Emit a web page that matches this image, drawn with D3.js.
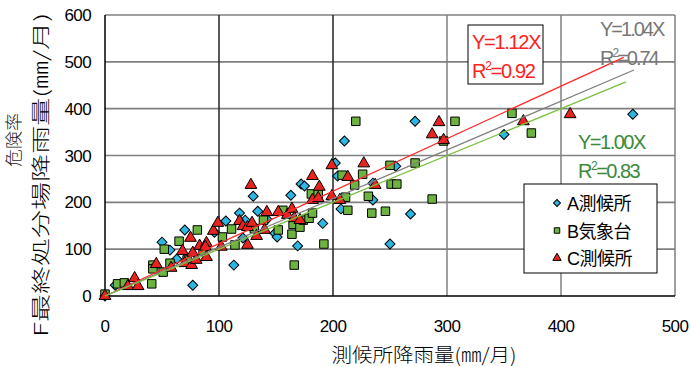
<!DOCTYPE html>
<html>
<head>
<meta charset="utf-8">
<script src="https://cdn.jsdelivr.net/npm/d3@7"></script>
<style>
body { margin: 0; background: #fff; }
text { font-family: "Liberation Sans", Arial, "Noto Sans CJK JP", sans-serif; }
.jp { font-family: "Noto Sans CJK JP", sans-serif; font-weight: 300; }
</style>
</head>
<body>
<svg id="svg" width="691" height="367"></svg>
<script>
// A測候所
var seriesA = [[0,0],[9,23],[50,115],[57,98],[63,79],[70,141],[77,23],[96,136],[106,160],[113,66],[118,177],
  [121,124],[123,162],[130,213],[134,181],[142,164],[149,134],[151,126],[163,215],[169,107],[172,239],
  [175,235],[191,155],[202,284],[204,256],[207,186],[210,331],[235,205],[235,241],[250,111],[255,277],
  [268,175],[272,373],[350,345],[463,388]];
// B気象台
var seriesB = [[0,4],[11,26],[17,28],[41,26],[42,66],[42,58],[51,51],[57,70],[52,100],[65,117],[81,141],
  [72,77],[86,96],[103,126],[111,143],[114,109],[131,144],[139,162],[152,141],[156,183],[164,132],
  [165,153],[166,66],[171,147],[174,162],[179,166],[182,177],[181,218],[187,218],[192,111],[208,258],
  [211,211],[213,183],[219,237],[220,373],[226,260],[231,213],[234,177],[246,181],[250,279],[251,239],
  [256,239],[272,284],[287,207],[297,331],[307,373],[357,390],[374,348]];
// C測候所
var seriesC = [[0,0],[20,21],[26,38],[29,21],[45,68],[58,60],[68,96],[70,70],[76,66],[75,124],[77,92],
  [80,77],[83,107],[89,113],[89,83],[95,139],[99,156],[88,105],[102,105],[118,160],[121,149],[125,109],
  [125,147],[128,237],[129,156],[133,128],[140,141],[142,179],[152,179],[160,173],[164,186],[166,166],
  [171,162],[182,256],[182,205],[187,209],[188,233],[199,279],[199,213],[206,205],[213,254],[227,283],
  [237,237],[287,345],[293,371],[297,333],[367,373],[408,388]];

var xTicks = [0, 100, 200, 300, 400, 500];
var yTicks = [0, 100, 200, 300, 400, 500, 600];
var fits = [
  {name: "C", slope: 1.12, r2: "0.92", xmax: 455, color: "#ff2a2a"},
  {name: "all", slope: 1.04, r2: "0.74", xmax: 464, color: "#808080"},
  {name: "B", slope: 1.00, r2: "0.83", xmax: 457, color: "#7ac142"}
];
var legendNames = ["A測候所", "B気象台", "C測候所"];

var svg = d3.select("svg");
var x = d3.scaleLinear().domain([0, 500]).range([105, 675]);
var y = d3.scaleLinear().domain([0, 600]).range([296, 15]);

// grid
svg.append("g").selectAll("line").data(yTicks.slice(1)).enter().append("line")
  .attr("x1", x(0)).attr("x2", x(500))
  .attr("y1", function(d) { return y(d); }).attr("y2", function(d) { return y(d); })
  .attr("stroke", "#808080").attr("stroke-width", 1.6);
svg.append("g").selectAll("line").data(xTicks.slice(1)).enter().append("line")
  .attr("x1", function(d) { return x(d); }).attr("x2", function(d) { return x(d); })
  .attr("y1", y(0)).attr("y2", y(600))
  .attr("stroke", function(d) { return d <= 200 ? "#222" : "#808080"; })
  .attr("stroke-width", 1.5);
// axes
svg.append("line").attr("x1", x(0)).attr("x2", x(0)).attr("y1", y(0)).attr("y2", y(600))
  .attr("stroke", "#000").attr("stroke-width", 1.5);
svg.append("line").attr("x1", x(0)).attr("x2", x(500)).attr("y1", y(0)).attr("y2", y(0))
  .attr("stroke", "#000").attr("stroke-width", 1.5);

svg.append("g").selectAll("text").data(yTicks).enter().append("text")
  .attr("x", 91).attr("y", function(d) { return y(d) + 6; })
  .attr("text-anchor", "end").attr("font-size", 17).attr("letter-spacing", -0.6)
  .text(function(d) { return d; });
svg.append("g").selectAll("text").data(xTicks).enter().append("text")
  .attr("x", function(d) { return x(d); }).attr("y", 332)
  .attr("text-anchor", "middle").attr("font-size", 17).attr("letter-spacing", -0.6)
  .text(function(d) { return d; });

// axis titles
svg.append("text").attr("class", "jp").attr("x", 424).attr("y", 362)
  .attr("text-anchor", "middle").attr("font-size", 19)
  .attr("textLength", 185).attr("lengthAdjust", "spacingAndGlyphs")
  .text("測候所降雨量(㎜/月)");
svg.append("text").attr("class", "jp").attr("transform", "translate(20,140) rotate(-90)")
  .attr("text-anchor", "middle").attr("font-size", 17).attr("fill", "#222")
  .attr("textLength", 54).attr("lengthAdjust", "spacingAndGlyphs")
  .text("危険率");
svg.append("text").attr("class", "jp").attr("transform", "translate(48,175) rotate(-90)")
  .attr("text-anchor", "middle").attr("font-size", 19)
  .attr("textLength", 324).attr("lengthAdjust", "spacingAndGlyphs")
  .text("F最終処分場降雨量(㎜/月)");

// markers
var diamond = d3.symbol().type(d3.symbolSquare).size(50);
var square = d3.symbol().type(d3.symbolSquare).size(72);
var triangle = d3.symbol().type(d3.symbolTriangle).size(60);

function plot(data, gen, color, rot) {
  svg.append("g").selectAll("path").data(data).enter().append("path")
    .attr("d", gen)
    .attr("transform", function(d) {
      return "translate(" + x(d[0]) + "," + y(d[1]) + ")" + (rot ? " rotate(45)" : "");
    })
    .attr("fill", color).attr("stroke", "#000").attr("stroke-width", 1);
}
plot(seriesA, diamond, "#2bb6e3", true);
plot(seriesB, square, "#6db33f", false);
plot(seriesC, triangle, "#e8231f", false);

// fit lines
svg.append("g").selectAll("line").data(fits).enter().append("line")
  .attr("x1", x(0)).attr("y1", y(0))
  .attr("x2", function(d) { return x(d.xmax); })
  .attr("y2", function(d) { return y(d.slope * d.xmax); })
  .attr("stroke", function(d) { return d.color; }).attr("stroke-width", 1.3);

// fit labels
function fitLabel(px, py, slope, r2, color, ls) {
  var g = svg.append("g").attr("fill", color).attr("font-size", 20).attr("letter-spacing", ls);
  g.append("text").attr("x", px).attr("y", py).text("Y=" + slope.toFixed(2) + "X");
  var t = g.append("text").attr("x", px).attr("y", py + 29);
  t.append("tspan").text("R");
  t.append("tspan").attr("font-size", 12).attr("dy", -8).text("2");
  t.append("tspan").attr("dy", 8).text("=" + r2);
}
svg.append("rect").attr("x", 468).attr("y", 25).attr("width", 75).attr("height", 59)
  .attr("fill", "#fff").attr("stroke", "#000").attr("stroke-width", 1);
fitLabel(472, 49, fits[0].slope, fits[0].r2, "#ff2020", -1.3);
fitLabel(600, 36, fits[1].slope, fits[1].r2, "#777", -2);
fitLabel(578, 149, fits[2].slope, fits[2].r2, "#3a8a3a", -1.5);

// legend
var lg = svg.append("g");
lg.append("rect").attr("x", 524).attr("y", 184).attr("width", 133).attr("height", 89)
  .attr("fill", "#fff").attr("stroke", "#000").attr("stroke-width", 1);
var lgen = [d3.symbol().type(d3.symbolSquare).size(24), d3.symbol().type(d3.symbolSquare).size(30),
  d3.symbol().type(d3.symbolTriangle).size(30)];
var lcol = ["#2bb6e3", "#6db33f", "#e8231f"];
legendNames.forEach(function(n, i) {
  var cy = 203 + i * 27.5;
  lg.append("path").attr("d", lgen[i]())
    .attr("transform", "translate(557," + cy + ")" + (i === 0 ? " rotate(45)" : ""))
    .attr("fill", lcol[i]).attr("stroke", "#000").attr("stroke-width", 1);
  lg.append("text").attr("x", 567).attr("y", cy + 7).attr("font-size", 18).attr("letter-spacing", -0.5)
    .text(n);
});
</script>
</body>
</html>
